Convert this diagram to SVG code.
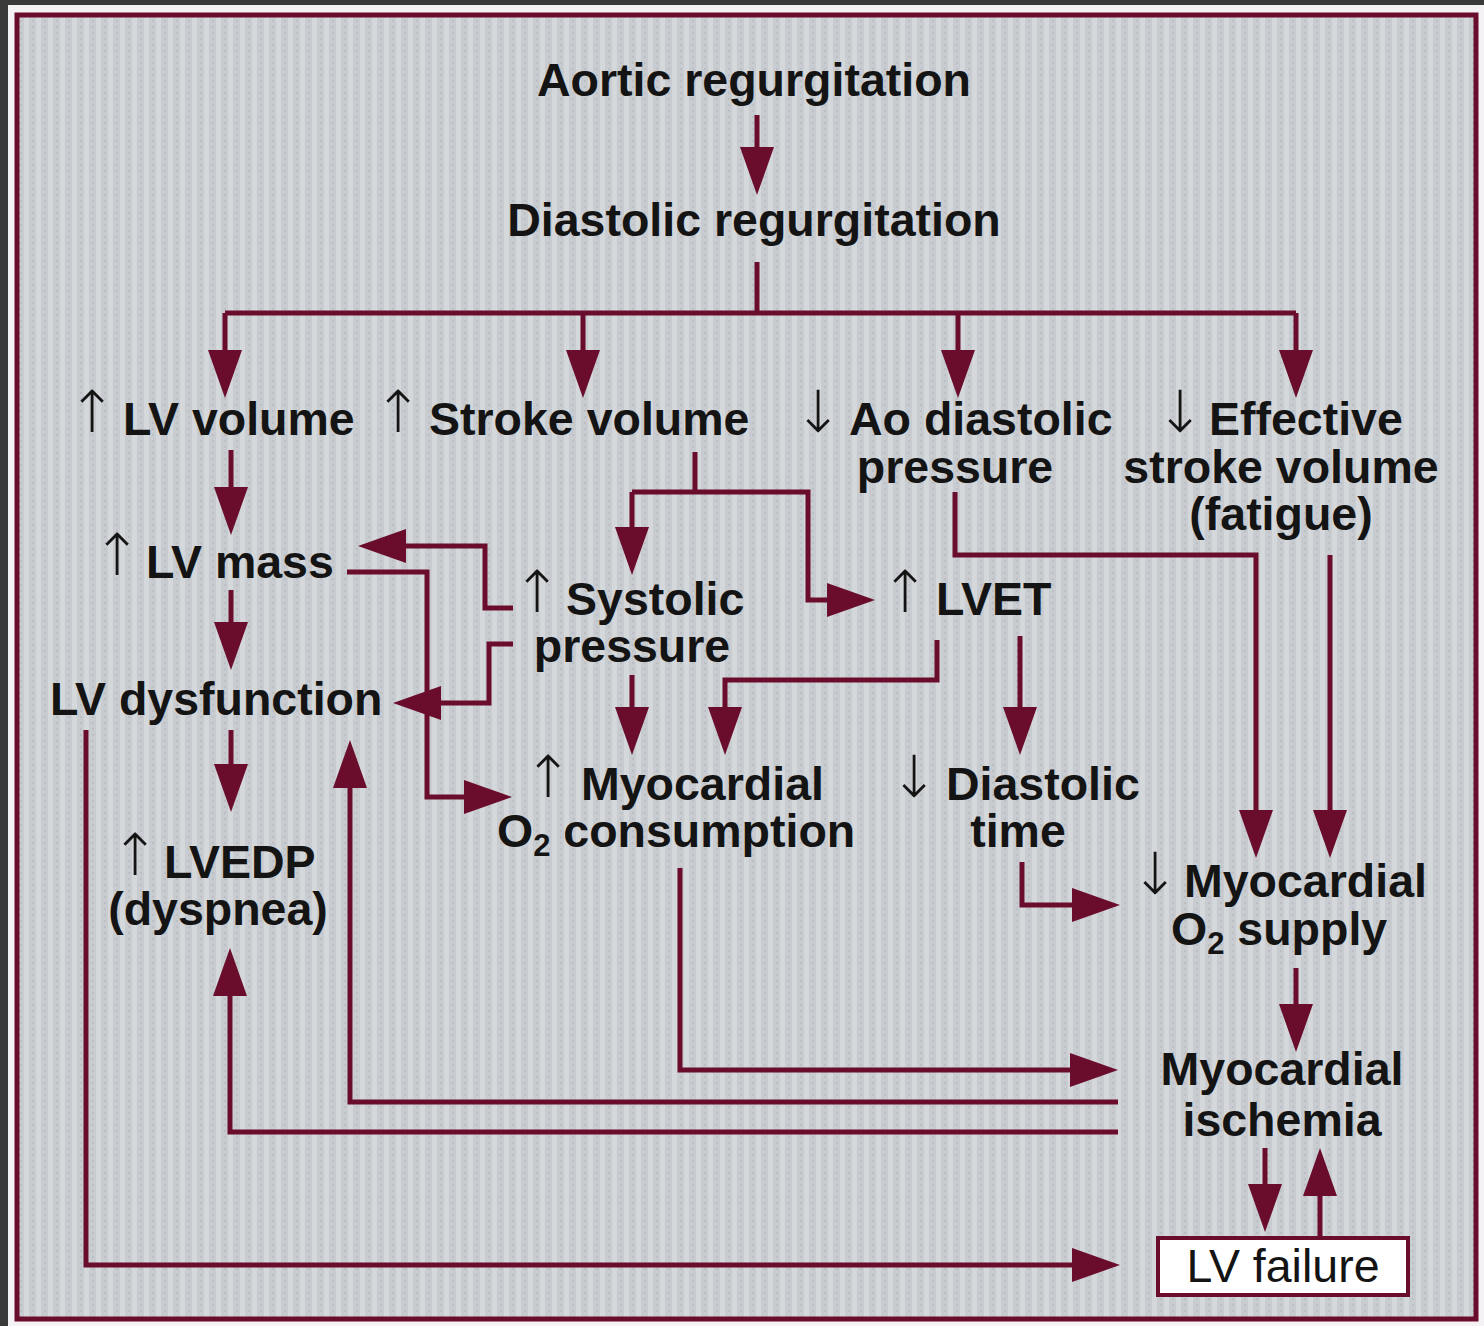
<svg xmlns="http://www.w3.org/2000/svg" width="1484" height="1326" viewBox="0 0 1484 1326">
<style>
.t{font-family:"Liberation Sans",Arial,sans-serif;font-weight:bold;font-size:46.5px;fill:#141414}
.c{text-anchor:middle}
.ar{font-family:"DejaVu Sans","Liberation Sans",sans-serif;font-weight:200;font-size:58px;fill:#141414;text-anchor:middle}
.sub{font-size:31px}
.n{font-weight:normal}
.ln{fill:none;stroke:#6a0c2c;stroke-width:5}
.ah{marker-end:url(#head)}
</style>
<defs>
<marker id="head" viewBox="0 0 48 34" refX="28" refY="17" markerWidth="48" markerHeight="34" markerUnits="userSpaceOnUse" orient="auto">
<path d="M0,0 L48,17 L0,34 Z" fill="#6a0c2c"/>
</marker>
<pattern id="tex" width="12" height="12" patternUnits="userSpaceOnUse">
<rect width="12" height="12" fill="#c8cbcf"/>
<rect x="0" width="5" height="12" fill="#d5d8db"/>
<rect x="8" y="2" width="2" height="2" fill="#bcc0c4"/>
<rect x="8" y="8" width="2" height="2" fill="#bcc0c4"/>
</pattern>
</defs>
<rect width="1484" height="1326" fill="#3a3a3a"/>
<rect x="8" y="5" width="1476" height="1321" fill="#f4f2f4"/>
<rect x="17" y="15" width="1459" height="1304" fill="url(#tex)" stroke="#6a0c2c" stroke-width="5"/>

<g id="connectors">
<path class="ln ah" d="M757,115 V175"/>
<path class="ln" d="M757,262 V313"/>
<path class="ln" d="M225,313 H1296"/>
<path class="ln ah" d="M225,313 V378"/>
<path class="ln ah" d="M583,313 V378"/>
<path class="ln ah" d="M958,313 V378"/>
<path class="ln ah" d="M1296,313 V378"/>
<path class="ln ah" d="M231,450 V515"/>
<path class="ln ah" d="M231,590 V650"/>
<path class="ln ah" d="M231,730 V792"/>
<path class="ln" d="M695,452 V492"/>
<path class="ln ah" d="M632,492 H808 V600 H855"/>
<path class="ln ah" d="M632,492 V555"/>
<path class="ln ah" d="M513,608 H485 V546 H378"/>
<path class="ln ah" d="M513,644 H489 V703 H413"/>
<path class="ln ah" d="M347,572 H427 V797 H492"/>
<path class="ln ah" d="M632,675 V735"/>
<path class="ln ah" d="M937,640 V680 H725 V735"/>
<path class="ln ah" d="M1020,636 V735"/>
<path class="ln ah" d="M955,492 V555 H1256 V838"/>
<path class="ln ah" d="M1330,555 V838"/>
<path class="ln ah" d="M1022,862 V905 H1100"/>
<path class="ln ah" d="M1296,968 V1032"/>
<path class="ln ah" d="M680,868 V1070 H1098"/>
<path class="ln ah" d="M1118,1102 H350 V760"/>
<path class="ln ah" d="M1118,1132 H230 V968"/>
<path class="ln ah" d="M86,730 V1265 H1100"/>
<path class="ln ah" d="M1265,1148 V1212"/>
<path class="ln ah" d="M1320,1236 V1168"/>
</g>

<g id="aortic-regurgitation"><text class="t c" x="754" y="96">Aortic regurgitation</text></g>
<g id="diastolic-regurgitation"><text class="t c" x="754" y="236">Diastolic regurgitation</text></g>
<g id="lv-volume"><text class="ar" x="92" y="432">↑</text><text class="t" x="123" y="435">LV volume</text></g>
<g id="stroke-volume"><text class="ar" x="398" y="432">↑</text><text class="t" x="429" y="435">Stroke volume</text></g>
<g id="ao-diastolic-pressure"><text class="ar" x="818" y="432">↓</text><text class="t" x="849" y="435">Ao diastolic</text><text class="t c" x="955" y="483">pressure</text></g>
<g id="effective-stroke-volume"><text class="ar" x="1180" y="432">↓</text><text class="t" x="1209" y="435">Effective</text><text class="t c" x="1281" y="483">stroke volume</text><text class="t c" x="1281" y="530">(fatigue)</text></g>
<g id="lv-mass"><text class="ar" x="117" y="575">↑</text><text class="t" x="146" y="578">LV mass</text></g>
<g id="systolic-pressure"><text class="ar" x="537" y="612">↑</text><text class="t" x="566" y="615">Systolic</text><text class="t c" x="632" y="662">pressure</text></g>
<g id="lvet"><text class="ar" x="905" y="612">↑</text><text class="t" x="936" y="615">LVET</text></g>
<g id="lv-dysfunction"><text class="t" x="50" y="715">LV dysfunction</text></g>
<g id="myocardial-o2-consumption"><text class="ar" x="548" y="797">↑</text><text class="t" x="581" y="800">Myocardial</text><text class="t" x="497" y="847">O<tspan class="sub" dy="9">2</tspan><tspan dy="-9"> consumption</tspan></text></g>
<g id="diastolic-time"><text class="ar" x="914" y="797">↓</text><text class="t" x="946" y="800">Diastolic</text><text class="t c" x="1018" y="847">time</text></g>
<g id="lvedp"><text class="ar" x="135" y="875">↑</text><text class="t" x="164" y="878">LVEDP</text><text class="t c" x="218" y="925">(dyspnea)</text></g>
<g id="myocardial-o2-supply"><text class="ar" x="1155" y="894">↓</text><text class="t" x="1184" y="897">Myocardial</text><text class="t" x="1171" y="945">O<tspan class="sub" dy="9">2</tspan><tspan dy="-9"> supply</tspan></text></g>
<g id="myocardial-ischemia"><text class="t c" x="1282" y="1085">Myocardial</text><text class="t c" x="1282" y="1136">ischemia</text></g>
<g id="lv-failure"><rect x="1158" y="1238" width="250" height="57" fill="#ffffff" stroke="#6a0c2c" stroke-width="4"/><text class="t c n" x="1283" y="1282">LV failure</text></g>
</svg>
